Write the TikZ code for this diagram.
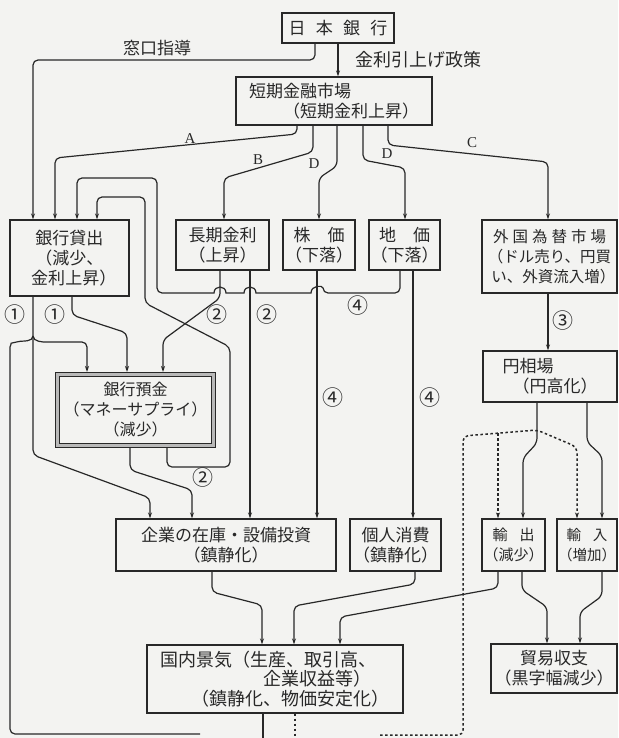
\documentclass[tikz,border=0pt]{standalone}
\usepackage{fontspec}
\setmainfont{Noto Sans CJK JP}
\newfontfamily\latin{Liberation Serif}
\usetikzlibrary{arrows.meta}
\definecolor{ink}{RGB}{40,40,40}
\definecolor{bg}{RGB}{243,243,241}
\tikzset{
  box/.style={draw=ink, line width=1.3pt, inner sep=0pt, outer sep=0.65pt, align=center,
    font=\fontsize{17}{20}\selectfont, text=ink},
  ln/.style={draw=ink, line width=1.2pt, rounded corners=5pt},
  arr/.style={ln, -{Stealth[length=6pt,width=4pt]}},
  dotln/.style={ln, line width=1.5pt, dash pattern=on 2.5pt off 2.5pt},
  lbl/.style={font=\fontsize{17}{17}\selectfont, text=ink, inner sep=0pt},
  abc/.style={font=\latin\fontsize{15}{15}\selectfont, text=ink, inner sep=0pt},
  num/.style={font=\fontsize{21}{21}\selectfont, text=ink, inner sep=0pt}
}
\begin{document}
\begin{tikzpicture}[x=1pt,y=-1pt]
\useasboundingbox (0,0) rectangle (618,738);
\fill[bg] (0,0) rectangle (618,738);

% boxes
\node[box, minimum width=112pt, minimum height=30pt] (nichigin) at (338,28) {日\hspace{0.6em}本\hspace{0.6em}銀\hspace{0.6em}行};
\node[box, minimum width=196pt, minimum height=48pt, align=left] (tanki) at (334,101) {短期金融市場\\\hspace{2em}（短期金利上昇）};
\node[box, minimum width=119pt, minimum height=76pt] (kashi) at (69.5,258) {銀行貸出\\（減少、\hspace{2em}\\\hspace{0.5em}金利上昇）};
\node[box, minimum width=93pt, minimum height=50pt] (choki) at (222.5,245) {長期金利\\（上昇）};
\node[box, minimum width=72pt, minimum height=50pt] (kabu) at (319,245) {株\hspace{1em}価\\（下落）};
\node[box, minimum width=71pt, minimum height=50pt] (chika) at (404.5,245) {地\hspace{1em}価\\（下落）};
\node[box, minimum width=135pt, minimum height=73pt, font=\fontsize{15.5}{20}\selectfont] (gaitame) at (549.5,256.5)
  {外\hspace{4pt}国\hspace{4pt}為\hspace{4pt}替\hspace{4pt}市\hspace{4pt}場\\（ドル売り、円買\\\hspace{0.5em}い、外資流入増）};
\node[box, minimum width=134pt, minimum height=51pt, align=left] (en) at (550,376.5) {円相場\\\hspace{10pt}（円高化）};
\node[box, double=gray!55, double distance=3pt, line width=1pt, outer sep=2.5pt,
  minimum width=156pt, minimum height=71pt, font=\fontsize{16}{20}\selectfont] (yokin) at (135.5,410)
  {銀行預金\\（マネーサプライ）\\（減少）};
\node[box, minimum width=220pt, minimum height=52pt] (kigyo) at (226,545) {企業の在庫・設備投資\\（鎮静化）};
\node[box, minimum width=91pt, minimum height=52pt] (kojin) at (395.5,545) {個人消費\\（鎮静化）};
\node[box, minimum width=63pt, minimum height=52pt, font=\fontsize{15}{20}\selectfont] (yushutsu) at (513.5,545) {輸\hspace{0.8em}出\\（減少）};
\node[box, minimum width=60pt, minimum height=52pt, font=\fontsize{14.5}{20}\selectfont] (yunyu) at (587,545) {輸\hspace{0.8em}入\\（増加）};
\node[box, minimum width=256pt, minimum height=68pt, align=left, font=\fontsize{18}{19.5}\selectfont] (kokunai) at (275,679)
  {国内景気（生産、取引高、\\\hspace{103pt}企業収益等）\\\hspace{31pt}（鎮静化、物価安定化）};
\node[box, minimum width=126pt, minimum height=49pt] (boeki) at (554,668.5) {貿易収支\\（黒字幅減少）};

% top labels
\node[lbl] (lmado) at (157,48) {窓口指導};
\node[lbl, font=\fontsize{18}{18}\selectfont] (lkinri) at (418,60) {金利引上げ政策};

% top connectors
\draw[arr] (nichigin.south -| 315,0) -- (315,60) -- (33,60) -- (kashi.north -| 33,0);
\draw[arr] (nichigin.south) -- (tanki.north -| nichigin.south);
\draw[arr] (tanki.south -| 297,0) -- (297,134) -- (55,158) -- (kashi.north -| 55,0);
\draw[arr] (tanki.south -| 313,0) -- (313,152) -- (224,178) -- (choki.north -| 224,0);
\draw[arr] (tanki.south -| 337,0) -- (337,166) -- (319,178) -- (kabu.north -| 319,0);
\draw[arr] (tanki.south -| 363,0) -- (363,160) -- (405,168) -- (chika.north -| 405,0);
\draw[arr] (tanki.south -| 388,0) -- (388,145) -- (548,162) -- (gaitame.north -| 548,0);
\node[abc] (la) at (190,139) {A};
\node[abc] (lb) at (258,160) {B};
\node[abc] (ld1) at (314,164) {D};
\node[abc] (ld2) at (387,154) {D};
\node[abc] (lc) at (472,143) {C};

% land price bus back to bank lending
\draw[arr] (chika.south -| 400,0) -- (400,293) -- (323,293)
  [sharp corners] .. controls (323,285) and (311,285) .. (311,293)
  -- (256,293) .. controls (256,285) and (244,285) .. (244,293)
  -- (226,293) .. controls (226,285) and (214,285) .. (214,293)
  [rounded corners=5pt] -- (157,293) -- (157,178) -- (77,178) -- (kashi.north -| 77,0);
% deposit loop back to bank lending
\draw[arr] (yokin.south -| 167,0) -- (167,467) -- (230,467) -- (230,347) -- (145,303) -- (145,197) -- (97,197) -- (kashi.north -| 97,0);

% bank lending outputs
\draw[arr] (kashi.south -| 33,0) -- (33,455) -- (150,498) -- (kigyo.north -| 150,0);
\draw[ln] (33,336) .. controls (33,342) and (22,341) .. (16,342) .. controls (12,343) and (10,346) .. (10,352) -- (10,734) -- (200,734);
\draw[arr] (33,336) .. controls (33,342) and (44,342) .. (50,342) -- (87,342) -- (yokin.north -| 87,0);
\draw[arr] (kashi.south -| 72,0) -- (72,315) -- (127,333) -- (yokin.north -| 127,0);

% long-term rate outputs
\draw[arr] (choki.south -| 220,0) -- (220,298) -- (163,340) -- (yokin.north -| 163,0);
\draw[arr] (choki.south -| 250,0) -- (kigyo.north -| 250,0);
\draw[arr] (kabu.south -| 317,0) -- (kigyo.north -| 317,0);
\draw[arr] (chika.south -| 413,0) -- (kojin.north -| 413,0);

% deposits to investment
\draw[arr] (yokin.south -| 130,0) -- (130,470) -- (192,490) -- (kigyo.north -| 192,0);

% forex chain
\draw[arr] (gaitame.south -| 548,0) -- (en.north -| 548,0);
\draw[arr] (en.south -| 537,0) -- (537,443) -- (523,458) -- (yushutsu.north -| 523,0);
\draw[arr] (en.south -| 587,0) -- (587,442) -- (602,456) -- (yunyu.north -| 602,0);
\draw[dotln, -{Stealth[length=6pt,width=4pt]}] (380,735) -- (463,735) -- (463,436) -- (537,430) -- (577,447) -- (yunyu.north -| 577,0);
\draw[dotln, -{Stealth[length=6pt,width=4pt]}] (498,433) -- (yushutsu.north -| 498,0);

% to domestic economy / trade balance
\draw[arr] (kigyo.south -| 212,0) -- (212,592) -- (262,605) -- (kokunai.north -| 262,0);
\draw[arr] (kojin.south -| 415,0) -- (415,584) -- (294,606) -- (kokunai.north -| 294,0);
\draw[arr] (yushutsu.south -| 498,0) -- (498,588) -- (340,617) -- (kokunai.north -| 340,0);
\draw[arr] (yushutsu.south -| 522,0) -- (522,590) -- (547,607) -- (boeki.north -| 547,0);
\draw[arr] (yunyu.south -| 602,0) -- (602,596) -- (580,612) -- (boeki.north -| 580,0);
\draw[ln] (kokunai.south -| 263,0) -- (263,738);
\draw[dotln] (kokunai.south -| 295,0) -- (295,738);

% circled numbers
\node[num] (n1a) at (15,315) {①};
\node[num] (n1b) at (55,315) {①};
\node[num] (n2a) at (217,315) {②};
\node[num] (n2b) at (267,315) {②};
\node[num] (n4a) at (358,306) {④};
\node[num] (n2c) at (203,478) {②};
\node[num] (n4b) at (333,398) {④};
\node[num] (n4c) at (430,398) {④};
\node[num] (n3) at (563,321) {③};
\end{tikzpicture}
\end{document}
